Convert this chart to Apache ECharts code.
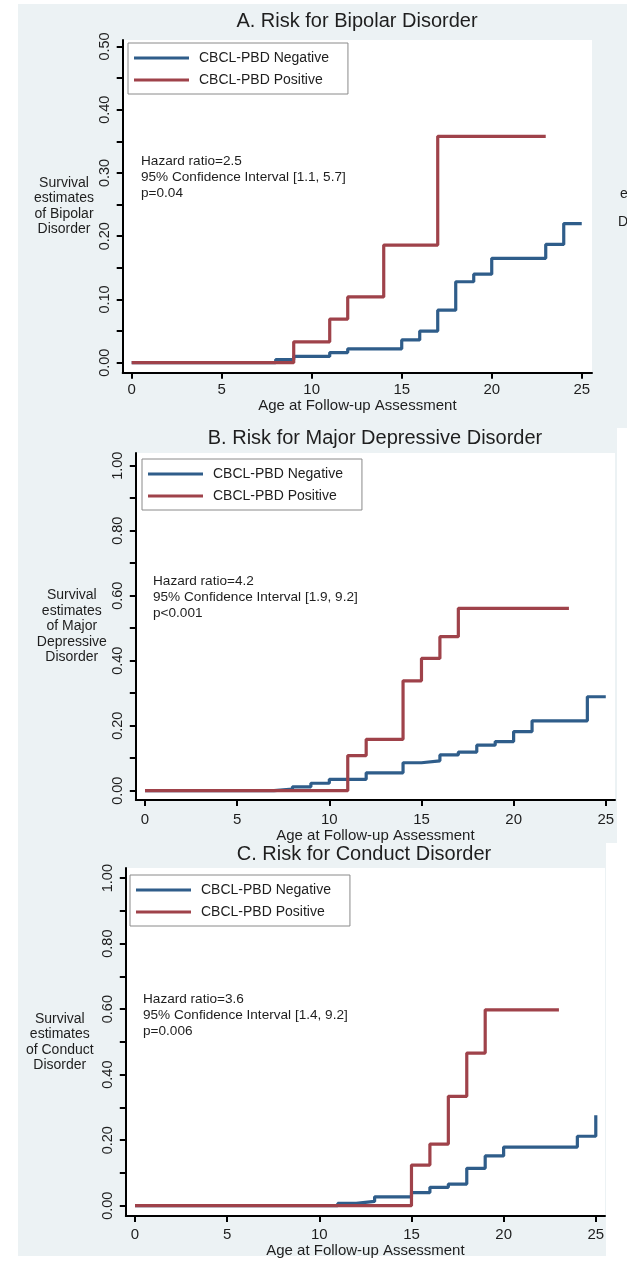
<!DOCTYPE html>
<html>
<head>
<meta charset="utf-8">
<script src="https://cdn.jsdelivr.net/npm/echarts@6/dist/echarts.min.js"></script>
<style>
  html, body { margin: 0; padding: 0; background: #ffffff; }
  #chart { width: 627px; height: 1261px; }
</style>
</head>
<body>
<div id="chart"></div>
<script>
// ---- Kaplan-Meier estimates (age at follow-up, cumulative risk) ----
const bipolarNegAge  = [0, 8, 9, 11, 12, 15, 16, 17, 18, 19, 20, 23, 24, 25];
const bipolarNegRisk = [0, 0.005, 0.010, 0.016, 0.022, 0.036, 0.050, 0.083, 0.128, 0.140, 0.165, 0.187, 0.220, 0.220];
const bipolarPosAge  = [0, 9, 11, 12, 14, 17, 23];
const bipolarPosRisk = [0, 0.033, 0.069, 0.104, 0.186, 0.358, 0.358];

const mddNegAge  = [0, 7, 8, 9, 10, 12, 14, 15, 16, 17, 18, 19, 20, 21, 24, 25];
const mddNegRisk = [0, 0.005, 0.012, 0.023, 0.035, 0.055, 0.086, 0.092, 0.110, 0.119, 0.140, 0.151, 0.182, 0.215, 0.289, 0.289];
const mddPosAge  = [0, 11, 12, 14, 15, 16, 17, 23];
const mddPosRisk = [0, 0.108, 0.158, 0.338, 0.407, 0.474, 0.561, 0.561];

const cdNegAge  = [0, 11, 12, 13, 15, 16, 17, 18, 19, 20, 24, 25];
const cdNegRisk = [0, 0.007, 0.013, 0.027, 0.040, 0.056, 0.066, 0.114, 0.152, 0.179, 0.212, 0.276];
const cdPosAge  = [0, 15, 16, 17, 18, 19, 23];
const cdPosRisk = [0, 0.124, 0.188, 0.334, 0.466, 0.598, 0.598];

// ---- tick values and labels ----
const ageTicks = [0, 5, 10, 15, 20, 25];
const bipolarRiskLabels = [0, 0.1, 0.2, 0.3, 0.4, 0.5];
const bipolarRiskTicks  = [0, 0.05, 0.1, 0.15, 0.2, 0.25, 0.3, 0.35, 0.4, 0.45, 0.5];
const fullRiskLabels = [0, 0.2, 0.4, 0.6, 0.8, 1.0];
const fullRiskTicks  = [0, 0.1, 0.2, 0.3, 0.4, 0.5, 0.6, 0.7, 0.8, 0.9, 1.0];

// ---- text ----
const groupNames = ['CBCL-PBD Negative', 'CBCL-PBD Positive'];
const panelTitles = [
  'A. Risk for Bipolar Disorder',
  'B. Risk for Major Depressive Disorder',
  'C. Risk for Conduct Disorder'
];
const yTitles = [
  'Survival\nestimates\nof Bipolar\nDisorder',
  'Survival\nestimates\nof Major\nDepressive\nDisorder',
  'Survival\nestimates\nof Conduct\nDisorder'
];
const xTitle = 'Age at Follow-up Assessment';
const statsText = [
  ['Hazard ratio=2.5', '95% Confidence Interval [1.1, 5.7]', 'p=0.04'],
  ['Hazard ratio=4.2', '95% Confidence Interval [1.9, 9.2]', 'p<0.001'],
  ['Hazard ratio=3.6', '95% Confidence Interval [1.4, 9.2]', 'p=0.006']
];

// ---- styling / layout ----
const FONT = '"Liberation Sans", Arial, Helvetica, sans-serif';
const TEXT = '#1e1e1e';
const BLUE = '#2f5d8a';
const RED  = '#9f424a';
const PANEL_BG = '#ecf2f4';

const layout = [
  { grid: { left: 122.7, top: 40,  width: 469.3, height: 332.7 },
    x: [-0.5, 25.57], y: [-0.0158, 0.5103],
    titleX: 357, titleTop: 11, yGap: 58.7, xLabelMargin: 10, xNameGap: 30.5,
    legend: { left: 128, top: 43 }, stats: { x: 141, y: 153 },
    bg: { x: 18, y: 4, w: 609, h: 424 } },
  { grid: { left: 135.8, top: 453, width: 479.2, height: 347 },
    x: [-0.5, 25.5], y: [-0.0286, 1.039],
    titleX: 375, titleTop: 428, yGap: 64, xLabelMargin: 12, xNameGap: 34,
    legend: { left: 142, top: 459 }, stats: { x: 153, y: 573 },
    bg: { x: 18, y: 428, w: 599, h: 415 } },
  { grid: { left: 125.8, top: 868, width: 479.2, height: 348 },
    x: [-0.5, 25.5], y: [-0.0315, 1.031],
    titleX: 364, titleTop: 844, yGap: 66, xLabelMargin: 11, xNameGap: 32,
    legend: { left: 130, top: 875 }, stats: { x: 143, y: 991 },
    bg: { x: 18, y: 843, w: 588, h: 413 } }
];

const curves = [
  { neg: [bipolarNegAge, bipolarNegRisk], pos: [bipolarPosAge, bipolarPosRisk], ticks: bipolarRiskTicks, labels: bipolarRiskLabels },
  { neg: [mddNegAge, mddNegRisk],         pos: [mddPosAge, mddPosRisk],         ticks: fullRiskTicks,    labels: fullRiskLabels },
  { neg: [cdNegAge, cdNegRisk],           pos: [cdPosAge, cdPosRisk],           ticks: fullRiskTicks,    labels: fullRiskLabels }
];

const zip = (a, b) => a.map((v, i) => [v, b[i]]);
const axisLineStyle = { color: '#000', width: 2 };

const grids = [], xAxes = [], yAxes = [], series = [], titles = [], legends = [], graphics = [];

layout.forEach((L, i) => {
  const C = curves[i];
  graphics.push({
    type: 'rect', z: -10, silent: true,
    shape: { x: L.bg.x, y: L.bg.y, width: L.bg.w, height: L.bg.h },
    style: { fill: PANEL_BG }
  });
  grids.push(Object.assign({ show: true, backgroundColor: '#ffffff', borderWidth: 0 }, L.grid));
  xAxes.push({
    gridIndex: i, type: 'value', min: L.x[0], max: L.x[1],
    axisLine: { show: true, onZero: false, lineStyle: axisLineStyle },
    axisTick: { show: true, customValues: ageTicks, length: 6, lineStyle: axisLineStyle },
    axisLabel: { customValues: ageTicks, margin: L.xLabelMargin, fontSize: 15, color: TEXT, fontFamily: FONT },
    splitLine: { show: false },
    name: xTitle, nameLocation: 'middle', nameGap: L.xNameGap,
    nameTextStyle: { fontSize: 15, color: TEXT, fontFamily: FONT, verticalAlign: 'middle' }
  });
  yAxes.push({
    gridIndex: i, type: 'value', min: L.y[0], max: L.y[1],
    axisLine: { show: true, onZero: false, lineStyle: axisLineStyle },
    axisTick: { show: true, customValues: C.ticks, length: 6, lineStyle: axisLineStyle },
    axisLabel: { customValues: C.labels, rotate: 90, margin: 10, fontSize: 14.5, color: TEXT, fontFamily: FONT,
                 formatter: v => Number(v).toFixed(2) },
    splitLine: { show: false },
    name: yTitles[i], nameLocation: 'middle', nameRotate: 0, nameGap: L.yGap,
    nameTextStyle: { fontSize: 14, lineHeight: 15.5, color: TEXT, fontFamily: FONT, align: 'center', verticalAlign: 'middle' }
  });
  series.push({
    name: groupNames[0], type: 'line', step: 'end', xAxisIndex: i, yAxisIndex: i,
    data: zip(C.neg[0], C.neg[1]), symbol: 'none',
    lineStyle: { color: BLUE, width: 3.2 }, itemStyle: { color: BLUE }, z: 2
  });
  series.push({
    name: groupNames[1], type: 'line', step: 'end', xAxisIndex: i, yAxisIndex: i,
    data: zip(C.pos[0], C.pos[1]), symbol: 'none',
    lineStyle: { color: RED, width: 3.2 }, itemStyle: { color: RED }, z: 3
  });
  titles.push({
    text: panelTitles[i], left: L.titleX, top: L.titleTop, textAlign: 'center', padding: 0,
    textStyle: { fontSize: 20, fontWeight: 'normal', color: TEXT, fontFamily: FONT }
  });
  legends.push({
    data: groupNames, orient: 'vertical', left: L.legend.left, top: L.legend.top,
    backgroundColor: '#ffffff', borderColor: '#8a8a8a', borderWidth: 1, borderRadius: 0,
    padding: [8, 19, 7, 6], itemGap: 8, itemWidth: 55, itemHeight: 3, icon: 'rect',
    selectedMode: false,
    textStyle: { fontSize: 14, color: TEXT, fontFamily: FONT, padding: [0, 0, 0, 5] }
  });
  graphics.push({
    type: 'text', left: L.stats.x, top: L.stats.y, silent: true,
    style: { text: statsText[i].join('\n'), font: '13.6px ' + FONT, lineHeight: 16, fill: TEXT }
  });
});

// Edges of the neighbouring figure's axis title
graphics.push({ type: 'text', left: 620, top: 187, silent: true, style: { text: 'e', font: '14px ' + FONT, fill: TEXT } });
graphics.push({ type: 'text', left: 618, top: 215, silent: true, style: { text: 'D', font: '14px ' + FONT, fill: TEXT } });

const chart = echarts.init(document.getElementById('chart'), null, { renderer: 'canvas' });
chart.setOption({
  backgroundColor: '#ffffff',
  animation: false,
  title: titles,
  legend: legends,
  grid: grids,
  xAxis: xAxes,
  yAxis: yAxes,
  series: series,
  graphic: graphics
});
</script>
</body>
</html>
